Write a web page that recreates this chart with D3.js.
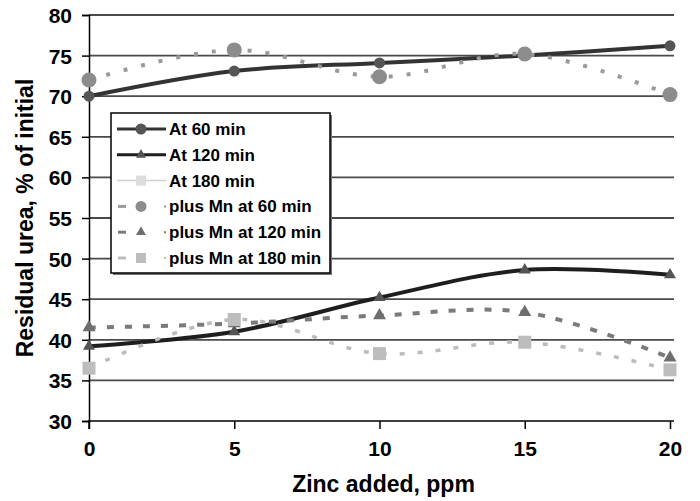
<!DOCTYPE html>
<html><head><meta charset="utf-8">
<script src="https://cdn.jsdelivr.net/npm/d3@7"></script>
<style>body{margin:0;background:#fff}svg{display:block}text{font-family:"Liberation Sans",Arial,sans-serif;font-weight:bold}</style>
</head><body><svg id="c" width="700" height="501"></svg>
<script>
const zinc = [0, 5, 10, 15, 20];
const at60 = [70, 73.1, 74.1, 75, 76.2];
const at120 = [39.2, 41, 45.2, 48.6, 48];
const at180 = [39.2, 40.8, 45.2, 48.6, 48];
const mn60 = [72, 75.7, 72.4, 75.2, 70.2];
const mn120 = [41.5, 42, 43, 43.4, 37.8];
const mn180 = [36.5, 42.5, 38.3, 39.7, 36.3];
const yTicks = [30, 35, 40, 45, 50, 55, 60, 65, 70, 75, 80];
const xTicks = [0, 5, 10, 15, 20];
const seriesNames = ["At 60 min", "At 120 min", "At 180 min", "plus Mn at 60 min", "plus Mn at 120 min", "plus Mn at 180 min"];

const styles = [
  {stroke:"#333", w:4, dash:null, shape:"circle", fill:"#555", size:5.5},
  {stroke:"#1e1e1e", w:4, dash:null, shape:"triangle", fill:"#555", size:12},
  {stroke:"#d0d0d0", w:1.5, dash:null, shape:"square", fill:"#dcdcdc", size:5},
  {stroke:"#9a9a9a", w:4, dash:"4,14", shape:"circle", fill:"#8c8c8c", size:7.5},
  {stroke:"#7a7a7a", w:4, dash:"7,11", shape:"triangle", fill:"#6e6e6e", size:13},
  {stroke:"#bcbcbc", w:3.5, dash:"5,13", shape:"square", fill:"#bdbdbd", size:6.5}
];
const data = [at60, at120, at180, mn60, mn120, mn180];

const svg = d3.select("#c");
const x = d3.scaleLinear().domain([0, 20]).range([89, 670]);
const y = d3.scaleLinear().domain([30, 80]).range([421, 15]);

// gridlines
svg.append("g").selectAll("line").data(yTicks.filter(t => t > 30)).join("line")
  .attr("x1", x(0)).attr("x2", 674).attr("y1", d => y(d)).attr("y2", d => y(d))
  .attr("stroke", "#4a4a4a").attr("stroke-width", 1.8);

// axes
const yAxis = svg.append("g").attr("transform", `translate(${x(0)},0)`)
  .call(d3.axisLeft(y).tickValues(yTicks).tickSize(7).tickPadding(10));
const xAxis = svg.append("g").attr("transform", `translate(0,${y(30)})`)
  .call(d3.axisBottom(x).tickValues(xTicks).tickSize(8).tickPadding(12));
[yAxis, xAxis].forEach(g => {
  g.select(".domain").attr("stroke", "#000").attr("stroke-width", 1.5);
  g.selectAll(".tick line").attr("stroke", "#000").attr("stroke-width", 1.5);
  g.selectAll("text").attr("font-size", 21).attr("fill", "#000").style("font-family", '"Liberation Sans",Arial,sans-serif').style("font-weight", "bold");
});
yAxis.selectAll("text").attr("dy", "0.36em");
xAxis.select(".domain").attr("d", `M${x(0)},8V0H674`);

svg.append("text").attr("x", (x(0) + x(20)) / 2 + 4).attr("y", 492).attr("text-anchor", "middle")
  .attr("font-size", 23).text("Zinc added, ppm");
svg.append("text").attr("transform", `translate(33,${y(55)}) rotate(-90)`).attr("text-anchor", "middle")
  .attr("font-size", 23).text("Residual urea, % of initial");

function marker(g, shape, size, fill, cx, cy) {
  if (shape === "circle") {
    g.append("circle").attr("cx", cx).attr("cy", cy).attr("r", size).attr("fill", fill);
  } else if (shape === "triangle") {
    const sym = d3.symbol().type(d3.symbolTriangle).size(size * size * Math.sqrt(3) / 4);
    g.append("path").attr("d", sym()).attr("transform", `translate(${cx},${cy})`).attr("fill", fill);
  } else {
    g.append("rect").attr("x", cx - size).attr("y", cy - size).attr("width", size * 2).attr("height", size * 2).attr("fill", fill);
  }
}

const line = d3.line().x((d, i) => x(zinc[i])).y(d => y(d)).curve(d3.curveCatmullRom.alpha(0.5));
const order = [2, 0, 1, 3, 4, 5];
order.forEach(si => {
  const st = styles[si];
  const g = svg.append("g");
  g.append("path").attr("d", line(data[si])).attr("fill", "none").attr("stroke", st.stroke)
    .attr("stroke-width", st.w).attr("stroke-dasharray", st.dash);
  if (si !== 2) data[si].forEach((v, i) => marker(g, st.shape, st.size, st.fill, x(zinc[i]), y(v)));
});

// legend
const lg = svg.append("g");
lg.append("rect").attr("x", 113).attr("y", 115).attr("width", 219).attr("height", 160).attr("fill", "#777");
lg.append("rect").attr("x", 111).attr("y", 113).attr("width", 219).attr("height", 160).attr("fill", "#fff").attr("stroke", "#000").attr("stroke-width", 1.5);
const legSizes = [5.5, 10, 5, 5.5, 10, 5];
seriesNames.forEach((n, i) => {
  const st = styles[i];
  const cy = 129 + i * 25.8;
  if (st.dash) {
    lg.append("line").attr("x1", 118).attr("x2", 126).attr("y1", cy).attr("y2", cy)
      .attr("stroke", st.stroke).attr("stroke-width", 3);
    lg.append("line").attr("x1", 164).attr("x2", 166).attr("y1", cy).attr("y2", cy)
      .attr("stroke", st.stroke).attr("stroke-width", 2);
  } else {
    lg.append("line").attr("x1", 117).attr("x2", 166).attr("y1", cy).attr("y2", cy)
      .attr("stroke", st.stroke).attr("stroke-width", i < 2 ? 3 : 1.5);
  }
  marker(lg, st.shape, legSizes[i], st.fill, 141, cy);
  lg.append("text").attr("x", 169).attr("y", cy + 6).attr("font-size", 17).text(n);
});
</script></body></html>
